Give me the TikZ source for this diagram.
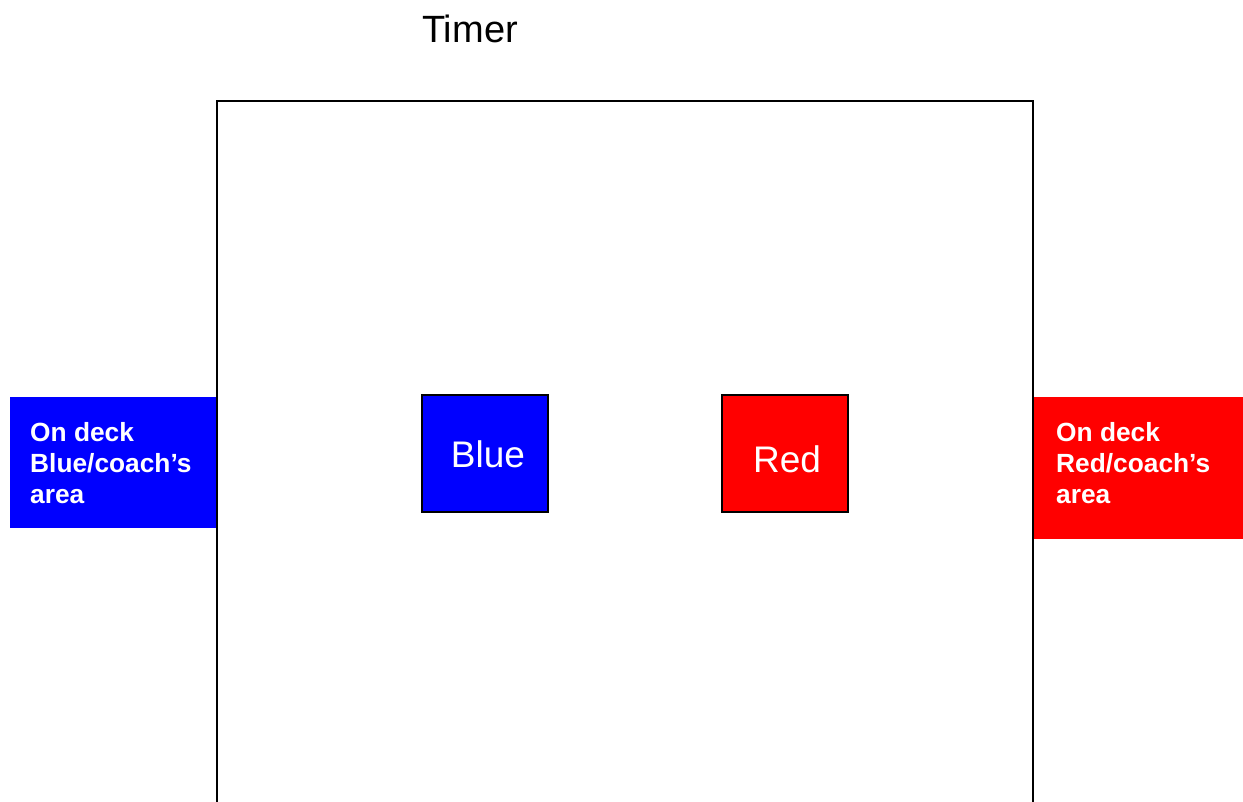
\documentclass[tikz,border=0pt]{standalone}
\usepackage{fontspec}
\setmainfont{Liberation Sans}
\definecolor{teamBlue}{RGB}{0, 0, 255}
\definecolor{teamRed}{RGB}{255, 0, 0}

\begin{document}
\begin{tikzpicture}[x=1pt, y=-1pt,
    square/.style={draw=black, line width=1.5pt, minimum width=126pt, minimum height=117pt, inner sep=0pt},
    deck/.style={inner sep=0pt, anchor=north west, align=left, text=white, font=\bfseries\fontsize{26.3}{31}\selectfont},
    big/.style={text=white, font=\fontsize{37}{44}\selectfont}]
      % Page
      \path[fill=white, use as bounding box] (0,0) rectangle (1243,802);

      % Pool, open at the bottom
      \draw[line width=1.5pt] (217,802) -- (217,101) -- (1033,101) -- (1033,802);
      \node[font=\fontsize{38}{46}\selectfont, anchor=base] (timer) at (470,43) {Timer};

      % On deck areas
      \fill[teamBlue] (10,397) rectangle (216,528);
      \fill[teamRed] (1034,397) rectangle (1243,539);
      \node[deck] (deckB) at (30,422) {On deck\\Blue/coach’s\\area};
      \node[deck] (deckR) at (1056,422) {On deck\\Red/coach’s\\area};

      % Swimmers
      \node[square, fill=teamBlue] (blue) at (485,453.5) {};
      \node[square, fill=teamRed] (red) at (785,453.5) {};
      \node[big, anchor=base] (blueT) at (488,467) {Blue};
      \node[big, anchor=base] (redT) at (787,472) {Red};
    \end{tikzpicture}
\end{document}
